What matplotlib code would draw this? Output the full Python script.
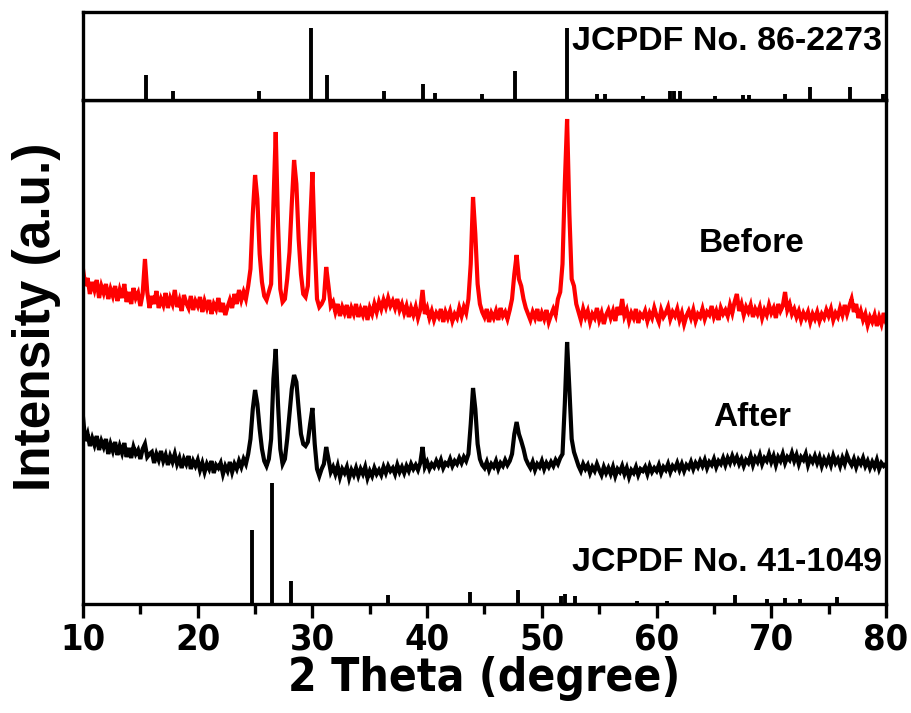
"""XRD patterns before/after with JCPDF reference sticks (86-2273 top, 41-1049 bottom)."""

import matplotlib
matplotlib.use("Agg")
import matplotlib.pyplot as plt
import numpy as np

NARROW = ["DejaVu Sans"]
WIDE = ["Liberation Sans", "DejaVu Sans"]

# 2-theta grid of the measured patterns (0.2 deg steps, 10..80)
TWO_THETA_START, TWO_THETA_STEP = 10.0, 0.2

# "Before" pattern (a.u.), one row per degree: x.0, x.2, x.4, x.6, x.8
before = [
    335, 318, 326, 310, 322,  314, 324, 306, 318, 311,  320, 305, 315, 308, 318,
    303, 314, 306, 320, 302,  312, 300, 316, 306, 311,  298, 310, 345, 312, 296,
    308, 300, 313, 296, 305,  299, 311, 296, 306, 300,  314, 297, 304, 293, 309,
    301, 296, 308, 294, 303,  298, 307, 292, 303, 296,  304, 290, 300, 295, 306,
    292, 301, 289, 297, 304,  296, 310, 300, 314, 304,  312, 305, 318, 335, 390,
    429, 405, 350, 322, 308,  304, 312, 320, 400, 472,  380, 315, 302, 305, 325,
    352, 400, 444, 420, 365,  330, 310, 307, 318, 380,  432, 360, 305, 297, 300,
    305, 337, 318, 298, 302,  292, 300, 288, 297, 291,  299, 286, 296, 290, 300,
    287, 295, 289, 298, 284,  296, 290, 300, 292, 302,  295, 304, 297, 306, 298,
    303, 296, 305, 294, 300,  291, 298, 287, 296, 289,  297, 286, 294, 314, 290,
    296, 286, 293, 284, 291,  287, 295, 282, 292, 286,  293, 283, 290, 286, 296,
    288, 297, 291, 305, 340,  407, 370, 320, 300, 292,  287, 295, 282, 291, 286,
    293, 284, 296, 288, 292,  285, 294, 305, 330, 349,  325, 318, 305, 296, 290,
    284, 292, 286, 295, 283,  291, 285, 294, 282, 289,  295, 289, 305, 312, 340,
    420, 485, 390, 325, 318,  300, 292, 284, 295, 287,  293, 282, 290, 286, 296,
    284, 291, 280, 289, 294,  286, 293, 283, 297, 289,  305, 288, 294, 283, 291,
    286, 295, 281, 290, 287,  293, 283, 291, 286, 296,  288, 282, 294, 287, 291,
    297, 285, 292, 288, 295,  284, 291, 280, 288, 293,  286, 294, 283, 290, 287,
    295, 285, 292, 289, 298,  287, 293, 284, 296, 290,  294, 288, 299, 291, 302,
    310, 293, 300, 289, 297,  292, 299, 287, 295, 290,  297, 286, 294, 289, 299,
    291, 296, 286, 300, 293,  298, 312, 294, 300, 290,  295, 287, 293, 284, 291,
    286, 292, 282, 290, 285,  292, 283, 290, 286, 294,  288, 295, 284, 291, 287,
    296, 289, 299, 290, 298,  305, 292, 300, 286, 293,  284, 290, 279, 287, 282,
    289, 278, 287, 280, 291,
    282,
]

# "After" pattern (a.u.), same grid
after = [
    187, 163, 170, 158, 166,  159, 168, 154, 163, 157,  165, 150, 160, 153, 162,
    149, 158, 151, 161, 147,  156, 146, 157, 150, 154,  145, 155, 160, 147, 150,
    152, 141, 150, 144, 153,  143, 149, 139, 148, 142,  150, 140, 146, 136, 145,
    140, 148, 135, 143, 138,  144, 134, 141, 132, 140,  135, 143, 131, 139, 136,
    141, 130, 138, 133, 142,  132, 140, 135, 143, 137,  145, 140, 150, 165, 195,
    214, 200, 175, 155, 143,  138, 145, 165, 225, 255,  200, 155, 140, 145, 165,
    190, 215, 229, 222, 195,  170, 160, 158, 162, 180,  196, 160, 135, 128, 135,
    140, 157, 145, 132, 137,  130, 138, 127, 135, 131,  137, 126, 134, 129, 136,
    128, 135, 130, 137, 126,  133, 128, 136, 130, 134,  129, 137, 131, 138, 133,
    136, 130, 139, 132, 137,  131, 138, 133, 140, 135,  139, 134, 141, 157, 137,
    142, 135, 140, 137, 143,  138, 144, 136, 141, 139,  145, 138, 143, 140, 146,
    141, 147, 143, 150, 180,  216, 195, 160, 145, 139,  136, 142, 134, 140, 137,
    143, 135, 141, 138, 144,  139, 143, 150, 170, 182,  170, 163, 155, 145, 140,
    136, 142, 134, 140, 137,  143, 135, 141, 137, 142,  138, 144, 140, 146, 150,
    200, 262, 215, 165, 152,  145, 138, 133, 140, 135,  139, 131, 137, 133, 140,
    134, 129, 137, 131, 136,  130, 137, 128, 135, 132,  138, 130, 136, 127, 134,
    131, 137, 129, 135, 133,  137, 130, 138, 132, 136,  133, 139, 131, 137, 134,
    140, 132, 138, 135, 141,  134, 140, 133, 139, 136,  142, 135, 141, 137, 143,
    138, 144, 136, 142, 139,  145, 137, 143, 140, 146,  139, 146, 141, 148, 142,
    147, 140, 145, 138, 144,  141, 148, 139, 146, 142,  149, 140, 146, 143, 150,
    142, 148, 139, 147, 143,  150, 141, 147, 144, 151,  143, 149, 140, 147, 144,
    150, 139, 146, 142, 148,  141, 147, 138, 145, 140,  146, 139, 148, 141, 145,
    138, 146, 140, 149, 143,  139, 145, 137, 144, 140,  146, 138, 143, 136, 142,
    137, 144, 135, 141, 138,
    140,
]

# JCPDF No. 86-2273 reference lines (relative intensity)
ref_top_pos = [15.46, 17.84, 25.3, 29.88, 31.25, 36.24, 39.62, 40.69, 44.81, 47.66,
               52.17, 54.8, 55.5, 58.85, 61.2, 61.5, 62.0, 65.1, 67.5, 68.1,
               71.2, 73.4, 76.9, 79.7]
ref_top_int = [35, 13, 13, 100, 35, 13, 23, 10, 8, 40,
               100, 8, 8, 6, 12, 12, 12, 6, 7, 7,
               8, 18, 18, 8]

# JCPDF No. 41-1049 reference lines (same a.u. as the patterns)
ref_bot_pos = [24.76, 26.5, 28.13, 36.6, 43.7, 47.9, 51.7, 52.0, 52.9, 58.3,
               60.9, 66.8, 69.6, 71.2, 72.5, 75.7]
ref_bot_int = [74, 121, 23, 9, 12, 14, 8, 10, 8, 3,
               3, 9, 5, 6, 5, 7]

W, H = 911, 713
L, R = 83, 886
MAIN_TOP, MAIN_BOT, TOP_TOP = 100, 604, 12


def main() -> None:
    two_theta = TWO_THETA_START + TWO_THETA_STEP * np.arange(len(before))

    fig = plt.figure(figsize=(W / 100, H / 100), dpi=100)
    ax = fig.add_axes([L / W, 1 - MAIN_BOT / H, (R - L) / W, (MAIN_BOT - MAIN_TOP) / H])
    ax_top = fig.add_axes([L / W, 1 - MAIN_TOP / H, (R - L) / W, (MAIN_TOP - TOP_TOP) / H])

    # main panel
    ax.plot(two_theta, before, color="#ff0000", lw=3.0, solid_joinstyle="miter")
    ax.plot(two_theta, after, color="black", lw=3.0, solid_joinstyle="miter")
    ax.vlines(ref_bot_pos, 0, ref_bot_int, color="black", lw=2.8)
    ax.set_xlim(10, 80)
    ax.set_ylim(0, MAIN_BOT - MAIN_TOP)

    ax.text(68.3, 361, "Before", ha="center", va="center", fontsize=24,
            fontweight="bold", family=WIDE)
    ax.text(68.3, 186, "After", ha="center", va="center", fontsize=24,
            fontweight="bold", family=WIDE)
    ax.text(0.995, 0.083, "JCPDF No. 41-1049", transform=ax.transAxes, ha="right",
            va="center", fontsize=24.5, fontweight="bold", family=WIDE)

    ax.set_xticks(np.arange(10, 81, 10))
    ax.set_xticks(np.arange(15, 80, 10), minor=True)
    ax.set_yticks([])
    ax.tick_params(axis="x", which="major", direction="out", length=10, width=2.4,
                   pad=3, labelsize=26)
    ax.tick_params(axis="x", which="minor", direction="out", length=7, width=2.4)
    for lab in ax.get_xticklabels():
        lab.set_fontweight("bold")
        lab.set_family(NARROW)
        lab.set_fontstretch("condensed")
    ax.set_xlabel("2 Theta (degree)", fontsize=33, fontweight="bold", family=NARROW,
                  fontstretch="condensed", va="top")
    ax.xaxis.set_label_coords(0.5, -0.104)
    ax.set_ylabel("Intensity (a.u.)", fontsize=37, fontweight="bold", family=WIDE)
    ax.yaxis.set_label_coords(-0.028, 0.57)

    # top panel: reference lines
    ax_top.vlines(ref_top_pos, 0, ref_top_int, color="black", lw=2.8)
    ax_top.set_xlim(10, 80)
    ax_top.set_ylim(0, 123)
    ax_top.set_xticks([])
    ax_top.set_yticks([])
    ax_top.text(0.995, 0.66, "JCPDF No. 86-2273", transform=ax_top.transAxes, ha="right",
                va="center", fontsize=24.5, fontweight="bold", family=WIDE)

    for a in (ax, ax_top):
        for sp in a.spines.values():
            sp.set_linewidth(2.4)

    fig.savefig("out.png", dpi=100)
    plt.close(fig)


if __name__ == "__main__":
    main()
